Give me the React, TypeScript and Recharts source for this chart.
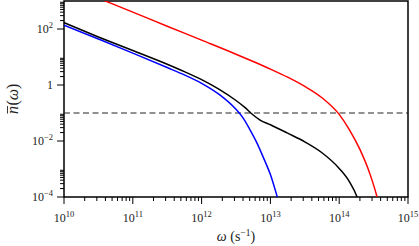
import { LineChart, Line, XAxis, YAxis, ReferenceLine, ReferenceArea } from "recharts";

// omega (s^-1) and occupation number
const blackW = [1e10, 3.16e10, 1e11, 3.16e11, 5.62e11, 1e12, 1.78e12, 3.16e12, 4.17e12, 5.62e12, 7.08e12, 1e13, 1.78e13, 3.16e13, 5.62e13, 1e14, 1.41e14, 1.82e14, 2e14];
const blackN = [168, 52, 17, 5.5, 3.0, 1.55, 0.71, 0.28, 0.165, 0.085, 0.056, 0.038, 0.019, 0.0093, 0.0038, 0.00105, 0.00035, 0.0001, 0.00005];

const blueW = [1e10, 3.16e10, 1e11, 3.16e11, 5.62e11, 1e12, 1.78e12, 3.16e12, 3.98e12, 5.01e12, 6.31e12, 7.94e12, 1e13, 1.26e13, 1.41e13];
const blueN = [138, 44, 13.8, 4.2, 2.3, 1.15, 0.47, 0.135, 0.068, 0.026, 0.0089, 0.0025, 0.00063, 0.0001, 0.00004];

const redW = [1e10, 3.16e10, 1e11, 3.16e11, 1e12, 3.16e12, 5.62e12, 1e13, 1.78e13, 3.16e13, 5.62e13, 1e14, 1.41e14, 2e14, 2.82e14, 3.55e14, 4e14];
const redN = [4000, 1260, 400, 126, 40, 12.6, 6.9, 3.7, 1.9, 0.89, 0.35, 0.089, 0.025, 0.005, 0.00063, 0.0001, 0.00003];

const threshold = 0.1;

const xMajor = [1e10, 1e11, 1e12, 1e13, 1e14, 1e15];
const xExp = ["10", "11", "12", "13", "14", "15"];
const yMajor = [1e-4, 1e-2, 1, 1e2];
const yBase = ["10", "10", "1", "10"];
const yExp = ["\u22124", "\u22122", "", "2"];
const subs = [2, 3, 4, 5, 6, 7, 8, 9];

const xTicks = [...xMajor, ...xMajor.slice(0, -1).flatMap((d) => subs.map((k) => k * d))];
const yTicks = [...yMajor, ...yMajor.flatMap((d) => subs.map((k) => k * d))];

const toPts = (w: number[], n: number[]) => w.map((v, i) => ({ w: v, n: n[i] }));

const font = "'Liberation Serif', 'DejaVu Serif', serif";

function XTick(props: any) {
  const { x, y, payload } = props;
  const i = xMajor.indexOf(payload.value);
  return (
    <g>
      <line x1={x} x2={x} y1={y} y2={y + (i >= 0 ? 7 : 4)} stroke="#000" strokeWidth={1} />
      {i >= 0 && (
        <text x={x} y={y + 25} textAnchor="middle" fontSize={12} fill="#222" fontFamily={font}>
          10<tspan dy={-5} fontSize={8.5}>{xExp[i]}</tspan>
        </text>
      )}
    </g>
  );
}

function YTick(props: any) {
  const { x, y, payload } = props;
  const i = yMajor.indexOf(payload.value);
  return (
    <g>
      <line x1={x} x2={x - (i >= 0 ? 7 : 4)} y1={y} y2={y} stroke="#000" strokeWidth={1} />
      {i >= 0 && (
        <text x={x - 11} y={y + 4} textAnchor="end" fontSize={12} fill="#222" fontFamily={font}>
          {yBase[i]}
          {yExp[i] && <tspan dy={-5} fontSize={8.5}>{yExp[i]}</tspan>}
        </text>
      )}
    </g>
  );
}

function XTitle() {
  return (
    <text x={236} y={241} textAnchor="middle" fontSize={14} fill="#222" fontFamily={font}>
      <tspan fontStyle="italic">ω</tspan> (s<tspan dy={-5} fontSize={9.5}>−1</tspan>
      <tspan dy={5}>)</tspan>
    </text>
  );
}

function YTitle() {
  // rotated frame: x runs up the page, baseline at the origin
  return (
    <g transform="translate(18, 98) rotate(-90)" fontFamily={font} fill="#222">
      <text x={-16} y={0} fontSize={16} fontStyle="italic">n</text>
      <line x1={-15.5} x2={-8} y1={-10.5} y2={-10.5} stroke="#222" strokeWidth={0.9} />
      <text x={-7.5} y={0} fontSize={16}>
        (<tspan fontStyle="italic">ω</tspan>)
      </text>
    </g>
  );
}

export default function App() {
  return (
    <div style={{ position: "absolute", left: 0, top: 0, background: "#fff" }}>
      <LineChart width={419} height={246} margin={{ top: 1, right: 11, bottom: 0, left: 0 }}>
        <XAxis
          dataKey="w"
          type="number"
          scale="log"
          domain={[1e10, 1e15]}
          allowDataOverflow
          ticks={xTicks}
          interval={0}
          tickLine={false}
          tickSize={0}
          tickMargin={0}
          axisLine={false}
          tick={<XTick />}
          height={49}
          label={<XTitle />}
        />
        <YAxis
          type="number"
          scale="log"
          domain={[1e-4, 1e3]}
          allowDataOverflow
          ticks={yTicks}
          interval={0}
          tickLine={false}
          tickSize={0}
          tickMargin={0}
          axisLine={false}
          tick={<YTick />}
          width={64}
          label={<YTitle />}
        />
        <ReferenceLine y={threshold} stroke="#222" strokeWidth={1} strokeDasharray="6 3.5" />
        <Line data={toPts(blueW, blueN)} dataKey="n" type="monotone" stroke="#0000ff" strokeWidth={1.5} dot={false} isAnimationActive={false} />
        <Line data={toPts(blackW, blackN)} dataKey="n" type="monotone" stroke="#000" strokeWidth={1.5} dot={false} isAnimationActive={false} />
        <Line data={toPts(redW, redN)} dataKey="n" type="monotone" stroke="#ff0000" strokeWidth={1.5} dot={false} isAnimationActive={false} />
        <ReferenceArea x1={1e10} x2={1e15} y1={1e-4} y2={1e3} fill="none" stroke="#000" strokeWidth={1.5} />
      </LineChart>
    </div>
  );
}
